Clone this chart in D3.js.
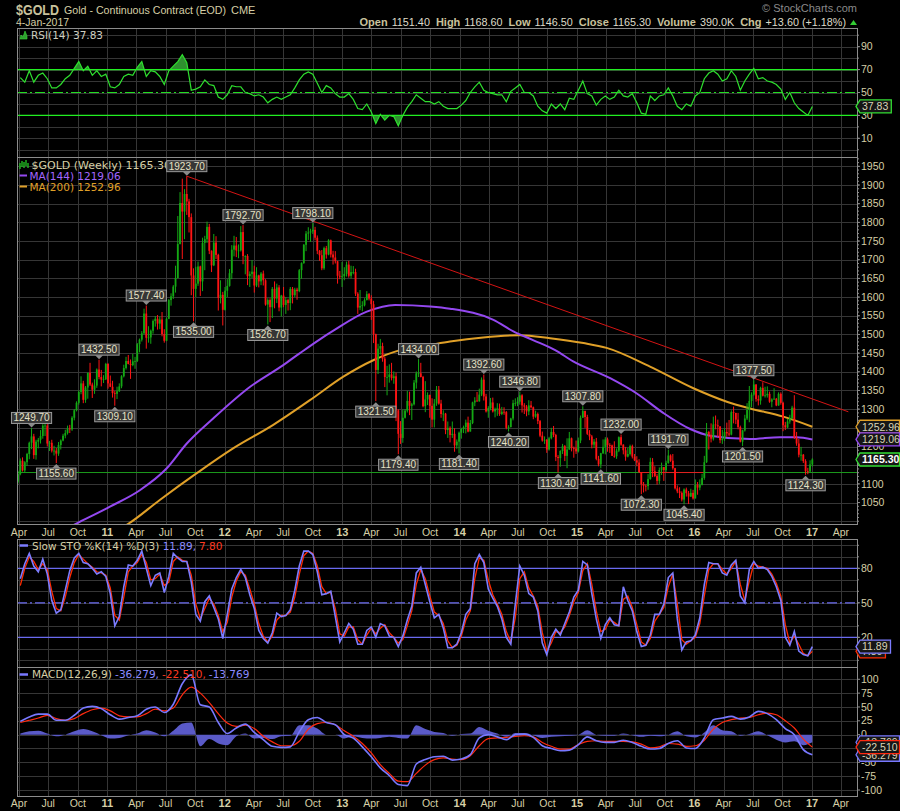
<!DOCTYPE html>
<html><head><meta charset="utf-8">
<script src="https://cdn.jsdelivr.net/npm/d3@7"></script>
<style>body{margin:0;background:#000;}svg{display:block;}</style>
</head><body><svg id="c" width="900" height="811"></svg>
<script>
// ---------- DATA (weekly, first bar = week of 2010-03-29) ----------
const startWeek = "2010-03-29";
const opens = [
1106,1126,1162,1136,1158,1180,1210,1227,1177,1213,1218,1228,1256,1256,1208,1210,1189,1189,1181,1204,1216,1229,1236,1248,1246,1277,1297,1317,1346,1369,1325,1358,1397,1366,1352,1363,1406,1386,1379,1380,
1421,1369,1360,1343,1341,1348,1361,1388,1410,1429,1421,1418,1428,1429,1474,1486,1503,1556,1491,1492,1510,1536,1542,1529,1540,1501,1483,1542,1592,1602,1628,1651,1742,1852,1829,1876,1856,1814,1658,1622,1636,1682,1642,1745,1755,1788,1724,1685,1746,1713,1598,1606,
1566,1617,1630,1664,1727,1738,1725,1725,1774,1710,1710,1656,1662,1668,1631,1658,1642,1663,1645,1580,1592,1573,1622,1596,1626,1572,1604,1579,1592,1584,1622,1605,1620,1616,1672,1691,1740,1770,1773,1776,1780,1759,1724,1712,1677,1731,1714,1752,1714,1706,1696,1657,1656,
1656,1662,1687,1657,1667,1667,1609,1572,1576,1578,1592,1608,1596,1581,1501,1405,1462,1469,1435,1386,1386,1393,1383,1388,1297,1234,1223,1277,1296,1322,1309,1313,1371,1396,1396,1386,1308,1326,1338,1309,1272,1315,1352,1315,1287,1288,1244,1250,1231,1234,1203,1213,
1237,1247,1252,1264,1240,1263,1318,1323,1321,1339,1379,1334,1294,1303,1318,1294,1300,1302,1287,1293,1292,1250,1252,1275,1316,1316,1320,1337,1310,1307,1294,1310,1305,1280,1287,1268,1229,1216,1218,1192,1222,1239,1231,1172,1169,1188,1201,1175,1192,1222,1196,1195,
1187,1216,1277,1295,1279,1234,1227,1205,1213,1167,1152,1182,1199,1219,1204,1203,1175,1174,1189,1225,1205,1190,1173,1180,1201,1173,1163,1157,1131,1099,1095,1094,1113,1159,1134,1121,1108,1137,1145,1137,1156,1176,1162,1142,1088,1080,1076,1058,1085,1075,1066,1076,
1061,1097,1090,1097,1116,1158,1239,1231,1221,1259,1257,1254,1217,1221,1239,1235,1232,1292,1290,1272,1252,1213,1243,1275,1298,1322,1339,1366,1327,1323,1357,1336,1337,1341,1320,1326,1328,1310,1341,1317,1257,1251,1267,1276,1304,1224,1208,1178,1178,1161,1134,1133,1152];
const highs = [
1135,1168,1171,1161,1183,1213,1249.7,1234,1218,1223,1244,1260,1265,1262,1215,1218,1202,1196,1212,1219,1234,1245,1256,1258,1281,1300,1321,1350,1388,1376,1362,1398,1424,1371,1380,1409,1432.5,1405,1391,1424,
1423,1390,1376,1349,1360,1369,1391,1419,1440,1445,1433,1448,1440,1477,1489,1509,1569,1577.4,1522,1513,1540,1549,1552,1548,1560,1514,1545,1595,1610,1632,1684,1817,1881,1917,1889,1923.7,1863,1824,1677,1681,1695,1684,1759,1764,1802,1796,1725,1769,1763,1716,1645,1614,
1627,1648,1675,1739,1764,1761,1741,1790,1792.7,1712,1715,1669,1699,1684,1680,1660,1667,1671,1648,1597,1597,1627,1642,1636,1632,1606,1627,1600,1596,1627,1627,1625,1625,1675,1693,1742,1777,1787,1783,1798.1,1788,1765,1726,1726,1735,1737,1755,1754,1724,1723,1697,1670,1694,
1680,1695,1697,1684,1683,1676,1613,1619,1589,1597,1616,1611,1605,1590,1502,1475,1488,1478,1440,1416,1420,1424,1401,1398,1300,1268,1299,1300,1349,1347,1317,1378,1401,1434,1424,1389,1375,1345,1339,1329,1327,1362,1362,1325,1297,1290,1267,1254,1267,1249,1219,1240,
1250,1256,1272,1280,1271,1320,1332,1346,1355,1385,1392.6,1341,1308,1330,1331,1304,1316,1315,1306,1305,1295,1257,1277,1325,1329,1332,1346.8,1340,1316,1311,1324,1322,1307,1296,1291,1271,1240,1227,1220,1226,1250,1255,1234,1177,1190,1207,1204,1222,1239,1224,1200,1216,
1224,1283,1307.8,1296,1285,1244,1231,1220,1223,1175,1183,1219,1225,1224,1209,1205,1214,1195,1227,1232,1206,1199,1196,1205,1205,1180,1174,1166,1131,1105,1098,1126,1170,1169,1147,1126,1144,1157,1145,1162,1191.7,1179,1180,1143,1096,1091,1080,1088,1090,1081,1087,1084,
1112,1105,1112,1127,1175,1263,1242,1262,1280,1283,1272,1254,1245,1249,1264,1271,1297,1307,1290,1290,1256,1245,1285,1316,1362,1345,1377.5,1367,1337,1360,1372,1360,1361,1347,1329,1356,1330,1345,1345,1320,1266,1274,1285,1309,1337.4,1239,1220,1199,1180,1166,1143,1163,1168.6];
const lows = [
1101,1123,1133,1131,1148,1166,1193,1167,1165,1195,1208,1221,1228,1200,1188,1184,1176,1155.6,1175,1192,1214,1222,1232,1236,1242,1270,1294,1312,1340,1316,1317,1328,1362,1330,1341,1357,1380,1361,1370,1378,
1355,1359,1331,1309.1,1327,1346,1356,1385,1406,1420,1381,1415,1408,1426,1452,1481,1500,1462,1478,1475,1502,1521,1513,1514,1495,1478,1482,1541,1577,1595,1612,1650,1741,1702,1755,1820,1773,1605,1535,1600,1630,1603,1616,1672,1745,1715,1667,1683,1702,1564,1583,1524,
1564,1600,1628,1648,1709,1707,1704,1722,1688,1661,1632,1627,1651,1612,1627,1626,1632,1631,1577,1526.7,1533,1544,1570,1584,1562,1548,1573,1555,1564,1565,1583,1600,1593,1613,1649,1689,1723,1753,1748,1769,1752,1715,1697,1672,1673,1703,1712,1706,1687,1690,1636,1648,1627,
1645,1655,1652,1650,1661,1603,1555,1565,1562,1575,1591,1591,1539,1477,1321.5,1394,1446,1427,1359,1337,1371,1377,1368,1268,1179.4,1207,1210,1275,1291,1284,1271,1310,1355,1386,1385,1305,1292,1311,1277,1251,1251,1309,1312,1277,1268,1233,1223,1211,1223,1186,1194,1181.4,
1221,1236,1235,1238,1240,1260,1308,1320,1320,1335,1323,1291,1277,1297,1291,1278,1282,1282,1284,1285,1246,1240.2,1251,1270,1308,1308,1312,1291,1287,1281,1284,1302,1273,1277,1260,1225,1213,1207,1183,1189,1219,1225,1161,1130.4,1146,1180,1161,1142,1191,1187,1170,1180,
1184,1209,1277,1250,1231,1217,1195,1196,1163,1147,1141.6,1180,1179,1186,1183,1175,1170,1167,1185,1202,1179,1162,1171,1176,1168,1161,1147,1131,1072.3,1077,1080,1084,1111,1118,1118,1098,1100,1124,1108,1132,1154,1159,1138,1085,1075,1062,1053,1045.4,1066,1046,1065,1058,
1061,1071,1083,1096,1111,1156,1192,1211,1216,1246,1225,1209,1207,1215,1226,1227,1230,1262,1260,1246,1211,1201.5,1240,1271,1265,1305,1336,1320,1310,1312,1334,1331,1331,1317,1305,1325,1308,1309,1312,1241,1244,1249,1261,1272,1220,1202,1171,1162,1156,1124.3,1126,1132,1146.5];
const closes = [
1126,1162,1136,1158,1180,1210,1227,1177,1213,1218,1228,1256,1256,1208,1210,1189,1189,1181,1204,1216,1229,1236,1248,1246,1277,1297,1317,1346,1369,1325,1358,1397,1366,1352,1363,1406,1386,1379,1380,1421,
1369,1360,1343,1341,1348,1361,1388,1410,1429,1421,1418,1428,1429,1474,1486,1503,1556,1491,1492,1510,1536,1542,1529,1540,1501,1483,1542,1592,1602,1628,1651,1742,1852,1829,1876,1856,1814,1658,1622,1636,1682,1642,1745,1755,1788,1724,1685,1746,1713,1598,1606,1566,
1617,1630,1664,1727,1738,1725,1725,1774,1710,1710,1656,1662,1668,1631,1658,1642,1663,1645,1580,1592,1573,1622,1596,1626,1572,1604,1579,1592,1584,1622,1605,1620,1616,1672,1691,1740,1770,1773,1776,1780,1759,1724,1712,1677,1731,1714,1752,1714,1706,1696,1657,1656,1656,
1662,1687,1657,1667,1667,1609,1572,1576,1578,1592,1608,1596,1581,1501,1405,1462,1469,1435,1386,1386,1393,1383,1388,1297,1234,1223,1277,1296,1322,1309,1313,1371,1396,1396,1386,1308,1326,1338,1309,1272,1315,1352,1315,1287,1288,1244,1250,1231,1234,1203,1213,1237,
1247,1252,1264,1240,1263,1318,1323,1321,1339,1379,1334,1294,1303,1318,1294,1300,1302,1287,1293,1292,1250,1252,1275,1316,1316,1320,1337,1310,1307,1294,1310,1305,1280,1287,1268,1229,1216,1218,1192,1222,1239,1231,1172,1169,1188,1201,1175,1192,1222,1196,1195,1187,
1216,1277,1295,1279,1234,1227,1205,1213,1167,1152,1182,1199,1219,1204,1203,1175,1174,1189,1225,1205,1190,1173,1180,1201,1173,1163,1157,1131,1099,1095,1094,1113,1159,1134,1121,1108,1137,1145,1137,1156,1176,1162,1142,1088,1080,1076,1058,1085,1075,1066,1076,1061,
1097,1090,1097,1116,1158,1239,1231,1221,1259,1257,1254,1217,1221,1239,1235,1232,1292,1290,1272,1252,1213,1243,1275,1298,1322,1339,1366,1327,1323,1357,1336,1337,1341,1320,1326,1328,1310,1341,1317,1257,1251,1267,1276,1304,1224,1208,1178,1178,1161,1134,1133,1152,1165.3];

// moving averages: [date, value]
const ma144 = [["2010-07-01",955],["2010-09-25",993],["2011-01-09",1039],["2011-04-12",1083],["2011-07-04",1141],["2011-09-05",1208],["2011-11-26",1275],["2012-03-20",1360],["2012-07-01",1418],["2012-08-22",1450],["2012-10-23",1487],["2012-12-04",1510],["2013-03-18",1561],["2013-06-14",1579],["2013-10-01",1575],["2013-12-02",1569],["2014-04-16",1539],["2014-06-17",1508],["2014-08-17",1485],["2014-10-25",1458],["2014-12-20",1428],["2015-04-14",1383],["2015-07-06",1342],["2015-09-26",1290],["2015-12-19",1247],["2016-02-19",1229],["2016-06-22",1220],["2016-09-23",1225],["2016-11-14",1225],["2017-01-02",1219.06]];
const ma200 = [["2010-12-01",950],["2011-03-07",993],["2011-06-13",1057],["2011-10-05",1128],["2012-01-27",1195],["2012-05-31",1258],["2012-09-22",1324],["2013-01-04",1387],["2013-04-07",1431],["2013-06-29",1458],["2013-10-01",1472],["2013-12-02",1481],["2014-03-15",1492],["2014-07-08",1498],["2014-10-09",1490],["2015-01-21",1477],["2015-04-03",1464],["2015-08-16",1414],["2015-12-29",1356],["2016-04-11",1320],["2016-06-22",1302],["2016-10-04",1280],["2017-01-02",1252.96]];

// indicators sampled every 2 weeks (weeks 1,3,...,353)
const rsi = [63,59,69,59,65,67,62,54,54,57,62,65,71,77,69,73,65,69,64,66,55,54,57,64,66,65,72,77,64,69,68,64,57,69,73,77,83,76,52,53,55,61,57,56,46,44,48,56,55,55,50,49,47,48,46,41,44,46,44,46,48,54,61,66,68,66,58,50,56,54,49,46,46,49,44,36,35,40,33,23,31,26,30,29,21,30,37,42,48,45,42,42,40,42,38,36,
36,36,39,43,50,55,59,52,50,49,48,48,42,51,54,57,50,50,47,38,34,32,40,36,40,35,45,44,52,60,49,47,39,44,47,44,46,52,47,46,49,41,32,31,47,43,47,48,54,47,38,35,40,38,47,50,62,67,69,66,60,62,69,64,52,60,66,71,62,63,60,59,57,53,44,50,41,36,33,30,37.83];
const stoK = [71,84,93,82,77,88,75,52,41,44,61,78,89,93,85,84,80,75,77,73,58,30,38,64,83,82,87,95,80,65,74,76,59,73,93,89,86,86,68,40,34,51,56,46,36,19,40,62,72,79,72,57,45,26,19,15,24,41,38,39,44,61,82,95,95,92,77,57,58,60,38,16,24,32,27,14,14,26,29,20,32,30,21,20,12,21,35,47,76,81,66,51,37,40,28,11,
11,14,24,40,45,84,92,85,62,54,47,36,20,14,49,82,74,58,55,43,15,5,20,27,22,32,42,55,61,86,83,58,36,19,31,37,31,30,64,52,43,25,12,13,22,40,40,49,72,76,36,9,16,17,22,37,66,85,84,84,76,74,83,87,56,50,79,86,80,81,79,73,64,52,20,13,25,8,5,4,11.89];
const stoD = [65,80,90,86,79,84,79,60,45,43,55,72,85,92,88,84,81,77,76,74,63,39,35,55,77,82,85,92,85,70,71,75,65,68,86,90,87,86,74,49,36,45,54,49,39,25,33,55,69,77,74,62,49,32,21,16,21,35,39,39,42,55,75,91,95,93,82,64,58,59,45,23,21,29,29,18,14,22,28,23,28,31,24,20,15,18,30,43,66,79,71,56,42,39,32,17,
11,13,21,35,43,71,89,87,70,57,49,40,25,16,37,71,77,63,56,47,24,8,15,25,24,29,39,51,59,78,84,66,43,25,27,35,33,30,53,56,46,31,16,13,19,34,40,46,64,75,49,18,14,17,20,32,56,79,84,84,79,75,80,86,66,52,69,84,82,81,80,75,67,56,31,15,21,14,6,4,7.80];
// MACD sampled every 4 weeks (weeks 1,5,...,353)
const macd = [24,32,37,37,26,26,35,48,51,47,36,28,31,34,46,50,40,55,92,108,54,50,22,2,12,19,4,-9,-21,-23,-22,5,27,31,22,18,0,-6,-22,-40,-60,-74,-90,-92,-53,-45,-40,-39,
-46,-44,-36,-6,0,-4,-9,0,1,-5,-20,-25,-29,-28,-18,-4,-11,-14,-14,-10,-14,-21,-26,-25,-16,-11,-24,-25,-6,27,30,33,28,32,42,38,27,11,0,-27,-36.279];
const macdSignal = [22,26,30,35,29,26,29,38,45,48,43,34,32,32,38,46,43,48,72,86,75,58,38,21,15,17,11,-3,-13,-20,-20,-12,10,20,22,18,7,-3,-16,-33,-54,-70,-84,-85,-70,-55,-45,-42,
-44,-45,-38,-20,-7,-6,-5,-3,-2,-4,-14,-21,-26,-26,-18,-12,-11,-12,-12,-12,-13,-17,-24,-22,-16,-17,-21,-20,-10,10,22,27,30,31,36,39,36,25,12,-8,-22.51];

// annotated swing points [date, value, hi/lo]
const annotations = [["2010-05-10",1249.7,"h"],["2010-07-26",1155.6,"l"],["2010-12-06",1432.5,"h"],["2011-01-24",1309.1,"l"],["2011-05-02",1577.4,"h"],["2011-09-05",1923.7,"h"],["2011-09-26",1535.0,"l"],["2012-02-27",1792.7,"h"],["2012-05-14",1526.7,"l"],["2012-10-01",1798.1,"h"],["2013-04-15",1321.5,"l"],["2013-06-24",1179.4,"l"],["2013-08-26",1434.0,"h"],["2013-12-30",1181.4,"l"],["2014-03-17",1392.6,"h"],["2014-06-02",1240.2,"l"],["2014-07-07",1346.8,"h"],["2014-11-03",1130.4,"l"],["2015-01-19",1307.8,"h"],["2015-03-16",1141.6,"l"],["2015-05-18",1232.0,"h"],["2015-07-20",1072.3,"l"],["2015-10-12",1191.7,"h"],["2015-11-30",1045.4,"l"],["2016-05-30",1201.5,"l"],["2016-07-04",1377.5,"h"],["2016-12-12",1124.3,"l"]];
const trendLine = [["2011-09-05",1923.7],["2017-04-24",1293]];
const supportLevel = 1130.4;
const supportBreak = ["2015-07-13","2016-02-01"];
const priceTicks = [1050,1100,1150,1200,1250,1300,1350,1400,1450,1500,1550,1600,1650,1700,1750,1800,1850,1900,1950];
const rsiTicks = [90,70,50,30,10];
const stoTicks = [80,50,20];
const macdTicks = [100,75,50,25,0,-25,-50,-75,-100];
const monthLabels = {3:"Apr",6:"Jul",9:"Oct"};

// ---------- RENDER ----------
const SANS = "'Liberation Sans', Arial, sans-serif";
const DEJA = "'DejaVu Sans', Verdana, sans-serif";
const TAN = "#d6cfa6";
const svg = d3.select("#c");
svg.append("rect").attr("width",900).attr("height",811).attr("fill","#000");
const parse = d3.utcParse("%Y-%m-%d");
const start = parse(startWeek);
const weekDate = i => d3.utcDay.offset(start, 7*i);
const L = 17, R = 857;
const x = d3.scaleUtc().domain([Date.UTC(2010,3,1), Date.UTC(2017,0,1)]).range([19,812]);
const P = {
  rsi:{top:28,bottom:157,y:d3.scaleLinear().domain([-6.3,106.3]).range([157,28])},
  main:{top:157,bottom:524,y:d3.scaleLinear().domain([992.6,1975]).range([524,157])},
  sto:{top:539,bottom:667,y:d3.scaleLinear().domain([-5.8,105.5]).range([667,539])},
  macd:{top:667,bottom:796,y:d3.scaleLinear().domain([-110.8,122.2]).range([796,667])}
};
const qTicks = d3.utcMonth.every(3).range(new Date(Date.UTC(2010,3,1)), new Date(Date.UTC(2017,4,2)));
const defs = svg.append("defs");
Object.entries(P).forEach(([k,p])=>{
  defs.append("clipPath").attr("id","clip-"+k).append("rect").attr("x",L).attr("y",p.top).attr("width",R-L).attr("height",p.bottom-p.top);
});
function grid(p, vals){
  const g = svg.append("g").attr("stroke","#363636").attr("stroke-width",1).attr("shape-rendering","crispEdges");
  vals.forEach(v=>{const yy=Math.round(p.y(v))+0.5; g.append("line").attr("x1",L).attr("x2",R).attr("y1",yy).attr("y2",yy);});
  qTicks.forEach(d=>{const xx=Math.round(x(d))+0.5; if(xx<R) g.append("line").attr("x1",xx).attr("x2",xx).attr("y1",p.top).attr("y2",p.bottom);});
}
grid(P.rsi, d3.range(0,101,10));
grid(P.main, d3.range(1000,1951,50));
grid(P.sto, d3.range(0,101,10));
grid(P.macd, d3.range(-100,101,25));

// ----- RSI panel -----
const yR = P.rsi.y;
const rsiPts = rsi.map((v,k)=>[weekDate(2*k+1), v]);
defs.append("clipPath").attr("id","rsiHi").append("rect").attr("x",L).attr("y",P.rsi.top).attr("width",R-L).attr("height",yR(70)-P.rsi.top);
defs.append("clipPath").attr("id","rsiLo").append("rect").attr("x",L).attr("y",yR(30)).attr("width",R-L).attr("height",P.rsi.bottom-yR(30));
svg.append("path").datum(rsiPts).attr("clip-path","url(#rsiHi)").attr("fill","#2f8f2f")
  .attr("d", d3.area().x(d=>x(d[0])).y0(yR(70)).y1(d=>yR(d[1])));
svg.append("path").datum(rsiPts).attr("clip-path","url(#rsiLo)").attr("fill","#2f8f2f")
  .attr("d", d3.area().x(d=>x(d[0])).y0(yR(30)).y1(d=>yR(d[1])));
[70,30].forEach(v=>svg.append("line").attr("x1",L).attr("x2",R).attr("y1",yR(v)).attr("y2",yR(v)).attr("stroke","#22ee22").attr("stroke-width",1.3));
svg.append("line").attr("x1",L).attr("x2",R).attr("y1",yR(50)).attr("y2",yR(50)).attr("stroke","#22dd22").attr("stroke-width",1.2).attr("stroke-dasharray","10,3,2,3");
svg.append("path").datum(rsiPts).attr("clip-path","url(#clip-rsi)").attr("fill","none").attr("stroke","#2ee02e").attr("stroke-width",1.2)
  .attr("d", d3.line().x(d=>x(d[0])).y(d=>yR(d[1])));

// ----- Main panel -----
const yP = P.main.y;
const gMain = svg.append("g").attr("clip-path","url(#clip-main)");
gMain.append("line").attr("x1",L).attr("x2",R).attr("y1",yP(supportLevel)).attr("y2",yP(supportLevel)).attr("stroke","#1c9a1c").attr("stroke-width",1);
gMain.append("line").attr("x1",x(parse(supportBreak[0]))).attr("x2",x(parse(supportBreak[1]))).attr("y1",yP(supportLevel)).attr("y2",yP(supportLevel)).attr("stroke","#e02020").attr("stroke-width",1);
const maLine = d3.line().x(d=>x(parse(d[0]))).y(d=>yP(d[1])).curve(d3.curveMonotoneX);
gMain.append("path").datum(ma200).attr("fill","none").attr("stroke","#e0a028").attr("stroke-width",2).attr("d",maLine);
gMain.append("path").datum(ma144).attr("fill","none").attr("stroke","#9448f0").attr("stroke-width",2).attr("d",maLine);
gMain.append("line").attr("x1",x(parse(trendLine[0][0]))).attr("y1",yP(trendLine[0][1]))
  .attr("x2",x(parse(trendLine[1][0]))).attr("y2",yP(trendLine[1][1])).attr("stroke","#d41414").attr("stroke-width",1);
const n = closes.length;
const gC = gMain.append("g");
for(let i=0;i<n;i++){
  const xx = x(weekDate(i));
  const up = closes[i] >= opens[i];
  const col = up ? "#14a814" : "#ff1414";
  gC.append("line").attr("x1",xx).attr("x2",xx).attr("y1",yP(highs[i])).attr("y2",yP(lows[i])).attr("stroke",col).attr("stroke-width",1);
  const y1 = yP(Math.max(opens[i],closes[i])), y2 = yP(Math.min(opens[i],closes[i]));
  gC.append("rect").attr("x",xx-0.9).attr("y",y1).attr("width",1.8).attr("height",Math.max(0.8,y2-y1)).attr("fill",col);
}

// ----- STO panel -----
const yS = P.sto.y;
[80,20].forEach(v=>svg.append("line").attr("x1",L).attr("x2",R).attr("y1",yS(v)).attr("y2",yS(v)).attr("stroke","#6a6af0").attr("stroke-width",1.2));
svg.append("line").attr("x1",L).attr("x2",R).attr("y1",yS(50)).attr("y2",yS(50)).attr("stroke","#6a6af0").attr("stroke-width",1.2).attr("stroke-dasharray","10,3,2,3");
const stoLine = d3.line().x((d,k)=>x(weekDate(2*k+1))).y(d=>yS(d));
svg.append("path").datum(stoD).attr("clip-path","url(#clip-sto)").attr("fill","none").attr("stroke","#ff2a00").attr("stroke-width",1.3).attr("d",stoLine);
svg.append("path").datum(stoK).attr("clip-path","url(#clip-sto)").attr("fill","none").attr("stroke","#7c7cff").attr("stroke-width",1.6).attr("d",stoLine);

// ----- MACD panel -----
const yM = P.macd.y;
const hist = macd.map((v,j)=>v - macdSignal[j]);
const mx = (d,j)=>x(weekDate(4*j+1));
svg.append("path").datum(hist).attr("clip-path","url(#clip-macd)").attr("fill","#5a5ac8")
  .attr("d", d3.area().x(mx).y0(yM(0)).y1(d=>yM(d)).curve(d3.curveMonotoneX));
svg.append("path").datum(macdSignal).attr("clip-path","url(#clip-macd)").attr("fill","none").attr("stroke","#ff2a10").attr("stroke-width",1.2)
  .attr("d", d3.line().x(mx).y(d=>yM(d)).curve(d3.curveMonotoneX));
svg.append("path").datum(macd).attr("clip-path","url(#clip-macd)").attr("fill","none").attr("stroke","#7878ff").attr("stroke-width",1.6)
  .attr("d", d3.line().x(mx).y(d=>yM(d)).curve(d3.curveMonotoneX));

// ----- frames -----
Object.values(P).forEach(p=>{
  svg.append("rect").attr("x",L+0.5).attr("y",p.top+0.5).attr("width",R-L).attr("height",p.bottom-p.top)
    .attr("fill","none").attr("stroke","#8c8c8c").attr("stroke-width",1).attr("shape-rendering","crispEdges");
});

// ----- value tags (positions first, so axis labels hidden underneath are skipped) -----
const hLast = hist[hist.length-1];
const tags = [
  {p:P.rsi, v:rsi[rsi.length-1], txt:rsi[rsi.length-1].toFixed(2), b:"#33dd33"},
  {p:P.main, v:ma200[ma200.length-1][1], txt:ma200[ma200.length-1][1].toFixed(2), b:"#e0a028"},
  {p:P.main, v:ma144[ma144.length-1][1], txt:ma144[ma144.length-1][1].toFixed(2), b:"#9448f0"},
  {p:P.main, v:closes[n-1], txt:closes[n-1].toFixed(2), b:"#33dd33", c:"#ffffff", bold:true},
  {p:P.sto, v:stoD[stoD.length-1], txt:stoD[stoD.length-1].toFixed(2), b:"#ff2a00"},
  {p:P.sto, v:stoK[stoK.length-1], txt:stoK[stoK.length-1].toFixed(2), b:"#7c7cff"},
  {p:P.macd, v:hLast, txt:hLast.toFixed(3), b:"#7878ff"},
  {p:P.macd, v:macd[macd.length-1], txt:macd[macd.length-1].toFixed(3), b:"#7878ff"},
  {p:P.macd, v:macdSignal[macdSignal.length-1], txt:macdSignal[macdSignal.length-1].toFixed(3), b:"#ff2a10"}
];
const tagYs = tags.map(t=>t.p.y(t.v));

// ----- right axes -----
function rightAxis(p, ticks, minor){
  const g = svg.append("g");
  if(minor) minor.forEach(v=>{const yy=p.y(v); if(yy>p.top&&yy<p.bottom) g.append("line").attr("x1",R).attr("x2",R+2).attr("y1",yy).attr("y2",yy).attr("stroke","#8c8c8c");});
  ticks.forEach(v=>{
    const yy = p.y(v);
    g.append("line").attr("x1",R).attr("x2",R+3).attr("y1",yy).attr("y2",yy).attr("stroke","#8c8c8c");
    if(tagYs.some(ty=>Math.abs(ty-yy)<7)) return;
    g.append("text").attr("x",R+4).attr("y",yy).attr("dy","0.35em").attr("font-family",SANS).attr("font-size",10.5).attr("fill",TAN).text(v);
  });
}
rightAxis(P.rsi, rsiTicks, d3.range(0,101,10));
rightAxis(P.main, priceTicks, d3.range(1000,1971,10));
rightAxis(P.sto, stoTicks, d3.range(0,101,10));
rightAxis(P.macd, macdTicks, null);

// ----- x axes -----
function xAxis(yBase){
  qTicks.forEach(d=>{
    const m = d.getUTCMonth();
    const isYear = m===0;
    svg.append("text").attr("x",x(d)).attr("y",yBase).attr("text-anchor","middle").attr("font-family",SANS)
      .attr("font-size",isYear?11:10.5).attr("font-weight",isYear?"bold":"normal").attr("fill",TAN)
      .text(isYear ? String(d.getUTCFullYear()).slice(2) : monthLabels[m]);
  });
}
xAxis(535.5);
xAxis(806.5);

function drawTag(t, yy){
  const g = svg.append("g");
  const txt = g.append("text").attr("x",R+5).attr("y",yy).attr("dy","0.36em").attr("font-family",SANS)
    .attr("font-size",10.5).attr("font-weight",t.bold?"bold":"normal").attr("fill",t.c||"#d8d4b8").text(t.txt);
  const w = txt.node().getComputedTextLength();
  const x2 = Math.min(899.5, R+5+w+3);
  g.insert("path","text").attr("d",`M${R-1},${yy} L${R+3},${yy-6.5} L${x2},${yy-6.5} L${x2},${yy+6.5} L${R+3},${yy+6.5} Z`)
    .attr("fill","#161616").attr("stroke",t.b).attr("stroke-width",1.3);
}
tags.forEach((t,i)=>drawTag(t, tagYs[i]));

// ----- header -----
svg.append("text").attr("x",16).attr("y",14.5).attr("font-family",SANS).attr("font-size",14.5).attr("font-weight","bold").attr("fill","#c9c29c")
  .attr("textLength",43).attr("lengthAdjust","spacingAndGlyphs").text("$GOLD");
svg.append("text").attr("x",64).attr("y",13.5).attr("font-family",SANS).attr("font-size",11.5).attr("fill",TAN)
  .attr("textLength",162).attr("lengthAdjust","spacingAndGlyphs").text("Gold - Continuous Contract (EOD)");
svg.append("text").attr("x",231).attr("y",13.5).attr("font-family",SANS).attr("font-size",11).attr("fill",TAN).text("CME");
svg.append("text").attr("x",16).attr("y",26).attr("font-family",SANS).attr("font-size",10.5).attr("fill",TAN).text("4-Jan-2017");
svg.append("text").attr("x",R).attr("y",12).attr("text-anchor","end").attr("font-family",SANS).attr("font-size",11).attr("fill","#8a8a8a").text("\u00A9 StockCharts.com");
const hdr = svg.append("text").attr("x",846).attr("y",26).attr("text-anchor","end").attr("font-family",SANS).attr("font-size",10.8);
[["Open","1151.40"],["High","1168.60"],["Low","1146.50"],["Close","1165.30"],["Volume","390.0K"],["Chg","+13.60 (+1.18%)"]].forEach((p,i)=>{
  hdr.append("tspan").attr("dx",i?6:0).attr("font-weight","bold").attr("font-size",11).attr("fill","#c9c29c").text(p[0]);
  hdr.append("tspan").attr("dx",4).attr("fill","#dedbc8").text(p[1]);
});
svg.append("path").attr("d","M850,25 L857,25 L853.5,20 Z").attr("fill","#33cc33");

// ----- panel legends -----
svg.append("path").attr("d","M20,39 L21,35 L23,37 L25,31 L27,36 L27,39 Z").attr("fill","#2f9f2f").attr("stroke","#33dd33").attr("stroke-width",0.6);
svg.append("text").attr("x",31).attr("y",38.5).attr("font-family",DEJA).attr("font-size",10.5).attr("fill","#cfcfc0").text("RSI(14) "+rsi[rsi.length-1].toFixed(2));
[[20,163,169],[22,161,167],[24,162,168],[26,160,166],[28,163,168]].forEach(c=>svg.append("line").attr("x1",c[0]).attr("x2",c[0]).attr("y1",c[1]).attr("y2",c[2]).attr("stroke","#22bb22").attr("stroke-width",1.4));
svg.append("text").attr("x",31.5).attr("y",168.5).attr("font-family",DEJA).attr("font-size",11).attr("fill",TAN).text("$GOLD (Weekly) "+closes[n-1].toFixed(2));
svg.append("line").attr("x1",19.5).attr("x2",27).attr("y1",175.5).attr("y2",175.5).attr("stroke","#9448f0").attr("stroke-width",2);
svg.append("text").attr("x",29.5).attr("y",179.5).attr("font-family",DEJA).attr("font-size",10.5).attr("fill","#a366ff").text("MA(144) "+ma144[ma144.length-1][1].toFixed(2));
svg.append("line").attr("x1",19.5).attr("x2",27).attr("y1",186.5).attr("y2",186.5).attr("stroke","#e0a028").attr("stroke-width",2);
svg.append("text").attr("x",29.5).attr("y",190.5).attr("font-family",DEJA).attr("font-size",10.5).attr("fill","#e0a028").text("MA(200) "+ma200[ma200.length-1][1].toFixed(2));
svg.append("line").attr("x1",19.5).attr("x2",28).attr("y1",545.5).attr("y2",545.5).attr("stroke","#7c7cff").attr("stroke-width",2.5);
const stoT = svg.append("text").attr("x",32).attr("y",549.5).attr("font-family",DEJA).attr("font-size",10.5);
stoT.append("tspan").attr("fill",TAN).text("Slow STO %K(14) %D(3) ");
stoT.append("tspan").attr("fill","#8c8cff").text(stoK[stoK.length-1].toFixed(2)+",");
stoT.append("tspan").attr("dx",3).attr("fill","#ff3a20").text(stoD[stoD.length-1].toFixed(2));
svg.append("line").attr("x1",19.5).attr("x2",28).attr("y1",674.5).attr("y2",674.5).attr("stroke","#7878ff").attr("stroke-width",2.5);
const mT = svg.append("text").attr("x",32).attr("y",678).attr("font-family",DEJA).attr("font-size",10.5);
mT.append("tspan").attr("fill",TAN).text("MACD(12,26,9) ");
mT.append("tspan").attr("fill","#8c8cff").text(macd[macd.length-1].toFixed(3)+",");
mT.append("tspan").attr("dx",3).attr("fill","#ff3a20").text(macdSignal[macdSignal.length-1].toFixed(3)+",");
mT.append("tspan").attr("dx",3).attr("fill","#8c8cff").text(hLast.toFixed(3));

// ----- annotations -----
const gA = svg.append("g");
annotations.forEach(a=>{
  const ax = x(parse(a[0])), ay = yP(a[1]);
  const hi = a[2]==="h";
  const boxTop = hi ? ay-15.5 : ay+5;
  const t = gA.append("text").attr("x",ax).attr("y",boxTop+9).attr("text-anchor","middle").attr("font-family",SANS)
    .attr("font-size",10).attr("fill","#e6e2c6").text(a[1].toFixed(2));
  const w = t.node().getComputedTextLength()+4;
  gA.insert("rect","text").attr("x",ax-w/2).attr("y",boxTop).attr("width",w).attr("height",11).attr("fill","#363636").attr("stroke","#9a9a9a").attr("stroke-width",1);
  const tri = hi ? `M${ax-4},${ay-4.5} L${ax+4},${ay-4.5} L${ax},${ay-0.5} Z` : `M${ax-4},${ay+5} L${ax+4},${ay+5} L${ax},${ay+1} Z`;
  gA.append("path").attr("d",tri).attr("fill","#8a8a8a");
});
</script>
</body></html>
